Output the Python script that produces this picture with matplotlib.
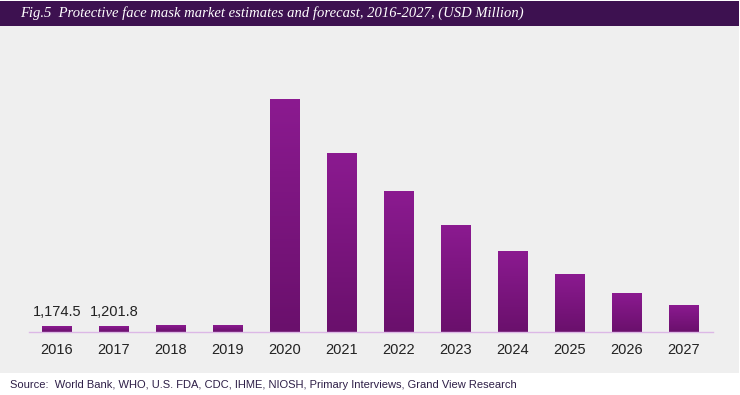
import numpy as np
import matplotlib.pyplot as plt
from matplotlib.patches import Rectangle
from matplotlib.colors import LinearSegmentedColormap

# Market size, USD million
years = ["2016", "2017", "2018", "2019", "2020", "2021",
         "2022", "2023", "2024", "2025", "2026", "2027"]
values = [1174.5, 1201.8, 1250, 1300, 48000, 36900,
          29000, 22000, 16500, 11800, 7900, 5400]
labelled = {0: "1,174.5", 1: "1,201.8"}

W, H = 740, 395
fig = plt.figure(figsize=(W / 100, H / 100), dpi=100)
fig.patch.set_facecolor("white")

def px(x0, y0, x1, y1):
    # pixel box (top-left origin) -> figure fraction rect
    return (x0 / W, 1 - y1 / H, (x1 - x0) / W, (y1 - y0) / H)

# grey panel and title band
l, b, w, h = px(0, 26, 739, 373)
fig.patches.append(Rectangle((l, b), w, h, transform=fig.transFigure,
                             facecolor="#efefef", edgecolor="none", zorder=-2))
l, b, w, h = px(0, 1, 739, 26)
fig.patches.append(Rectangle((l, b), w, h, transform=fig.transFigure,
                             facecolor="#3d1150", edgecolor="none", zorder=-2))
fig.text(20 / W, 1 - 13.5 / H,
         "Fig.5  Protective face mask market estimates and forecast, 2016-2027, (USD Million)",
         color="white", fontsize=10.5, family="Liberation Serif", style="italic",
         va="center", ha="left")
fig.text(10 / W, 1 - 385 / H,
         "Source:  World Bank, WHO, U.S. FDA, CDC, IHME, NIOSH, Primary Interviews, Grand View Research",
         color="#2e1f47", fontsize=8, family="Liberation Sans",
         va="center", ha="left")

ax = fig.add_axes(px(28.5, 41, 712.5, 332))
ax.set_facecolor("none")

cmap = LinearSegmentedColormap.from_list("bar", ["#6a106c", "#8b1a90"])
grad = np.linspace(0, 1, 100).reshape(-1, 1)
bw = 0.51
x = np.arange(len(years))
for i, v in enumerate(values):
    ax.imshow(grad, cmap=cmap, origin="lower", aspect="auto",
              extent=(x[i] - bw / 2, x[i] + bw / 2, 0, v), zorder=2)
    if i in labelled:
        ax.annotate(labelled[i], (x[i], v), xytext=(0, 5), textcoords="offset points",
                    ha="center", va="bottom", fontsize=10.5,
                    family="Liberation Sans", color="#222222")
ax.set_xlim(-0.5, len(years) - 0.5)
ax.set_ylim(0, 60000)

for s in ["top", "right", "left"]:
    ax.spines[s].set_visible(False)
ax.spines["bottom"].set_color("#dcb8e6")
ax.spines["bottom"].set_linewidth(1)
ax.set_yticks([])
ax.set_xticks(x)
ax.set_xticklabels(years, fontsize=10.5, family="Liberation Sans", color="#222222")
ax.tick_params(axis="x", length=0, pad=8)

fig.savefig("out.png", dpi=100)
